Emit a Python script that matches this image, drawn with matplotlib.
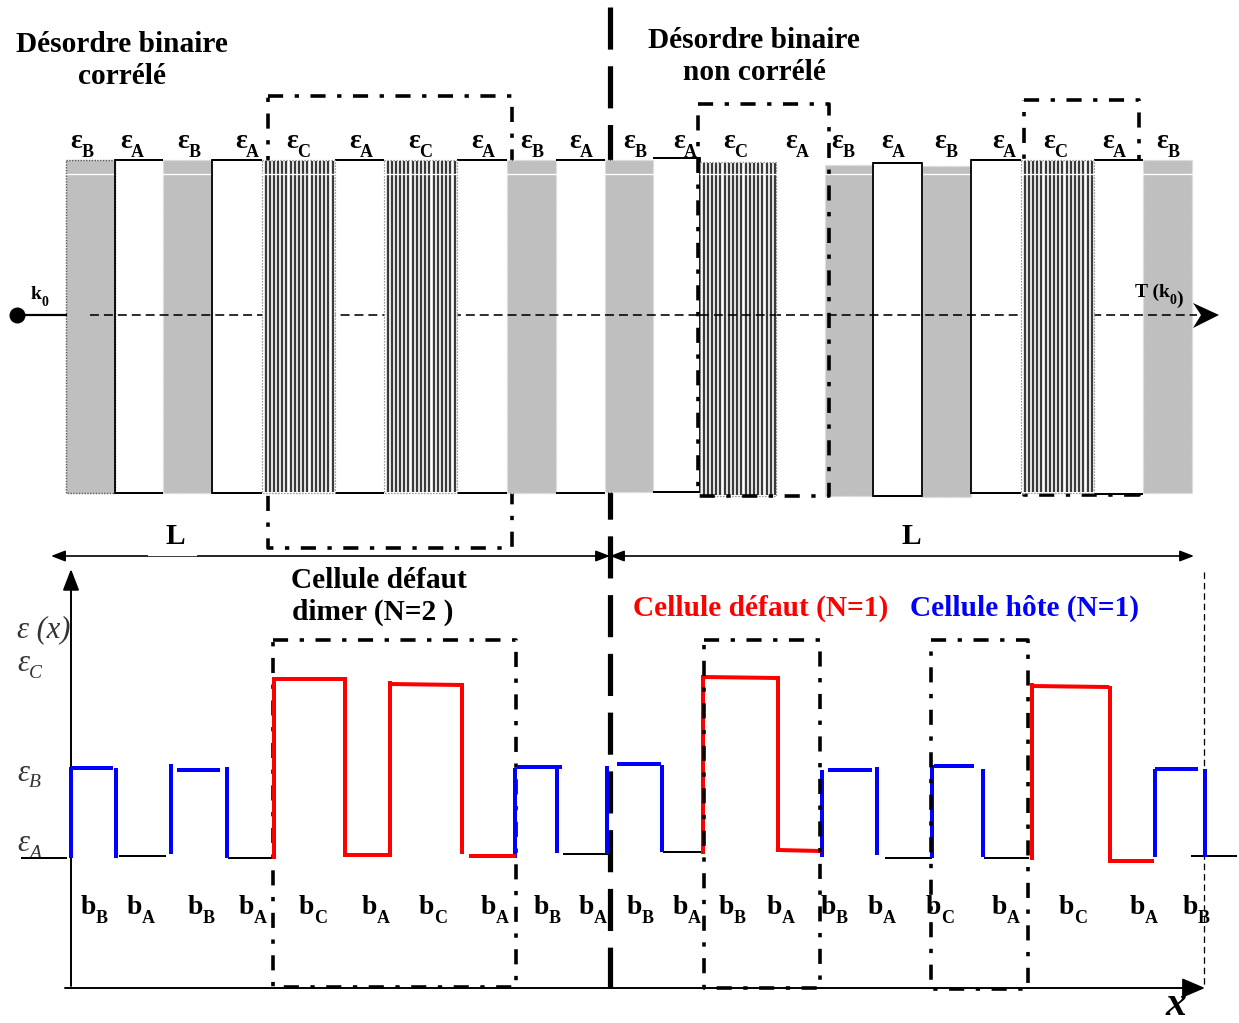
import numpy as np
import matplotlib
matplotlib.use('Agg')
import matplotlib.pyplot as plt
from matplotlib.patches import Rectangle, Polygon

plt.rcParams['font.family'] = ['Liberation Serif', 'DejaVu Serif']
plt.rcParams['mathtext.fontset'] = 'custom'
plt.rcParams['mathtext.it'] = 'Liberation Serif:italic:bold'

# stack of layers, reference pixel coordinates
layer_types = list('BABACACABABACABABACAB')
layer_left = [66, 115, 163, 212, 262, 335, 384, 457, 507, 556, 605, 653, 700, 776, 825, 873, 922, 971, 1021, 1094, 1143]
layer_right = [115, 163, 212, 262, 335, 384, 457, 507, 556, 605, 653, 700, 776, 825, 873, 922, 971, 1021, 1094, 1143, 1192]
layer_top = [160, 160, 160, 160, 160, 160, 160, 160, 160, 160, 160, 158, 162, 160, 165, 163, 166, 160, 160, 160, 160]
layer_bottom = [493, 493, 493, 493, 493, 493, 493, 493, 493, 493, 492, 492, 496, 496, 496, 496, 497, 493, 493, 494, 493]
black_edges = [115, 212, 700, 873, 922, 971]

eps_labels = ['B', 'A', 'B', 'A', 'C', 'A', 'C', 'A', 'B', 'A', 'B', 'A', 'C', 'A', 'B', 'A', 'B', 'A', 'C', 'A', 'B']
eps_x = [70, 120, 177, 235, 286, 349, 408, 471, 520, 569, 623, 673, 723, 785, 831, 881, 934, 992, 1043, 1102, 1156]
b_labels = ['B', 'A', 'B', 'A', 'C', 'A', 'C', 'A', 'B', 'A', 'B', 'A', 'B', 'A', 'B', 'A', 'C', 'A', 'C', 'A', 'B']
b_x = [81, 127, 188, 239, 299, 362, 419, 481, 534, 579, 627, 673, 719, 767, 821, 868, 926, 992, 1059, 1130, 1183]

# dash-dot boxes: left, right, top, bottom
box_left = [268, 698, 1024, 273, 704, 931]
box_right = [512, 829, 1139, 516, 820, 1028]
box_top = [96, 104, 100, 640, 640, 640]
box_bottom = [548, 496, 495, 987, 988, 989]
box_zorder = [1.5, 7, 1.5, 5, 7, 7]

# permittivity profile pieces: x0, x1, y0, y1
blue_segments = [
    (71, 71, 767, 858), (71, 113, 768, 768), (115.5, 115.5, 768, 858),
    (171, 171, 764, 854), (177, 220, 770, 770), (226.5, 226.5, 767, 858),
    (515, 515, 768, 858), (517, 562, 767, 767), (557, 557, 765, 853),
    (607, 607, 766, 854), (617, 661, 764, 764), (662, 662, 765, 852),
    (822, 822, 770, 857), (828, 872, 770, 770), (877, 877, 767, 855),
    (932, 932, 765, 858), (934, 974, 766, 766), (983, 983, 769, 857),
    (1155, 1155, 769, 857), (1155, 1198, 769, 769), (1205, 1205, 769, 857),
]
red_segments = [
    (274, 274, 857, 679), (274, 345, 679, 679), (345, 345, 679, 855), (345, 388, 855, 855),
    (390, 390, 855, 683), (390, 462, 684, 685), (462, 462, 685, 852), (471, 514, 856, 856),
    (703, 703, 852, 677), (703, 778, 677, 678), (778, 778, 678, 850), (778, 820, 850, 851),
    (1032, 1032, 858, 685), (1032, 1107, 686, 687), (1110, 1110, 688, 861), (1110, 1152, 861, 861),
]
black_segments = [
    (22, 66, 858, 858), (120, 165, 856, 856), (229, 273, 858, 858), (564, 607, 854, 854),
    (664, 703, 852, 852), (886, 931, 858, 858), (985, 1028, 858, 858), (1192, 1236, 856, 856),
]

fig = plt.figure(figsize=(12.39, 10.23), dpi=100)
ax = fig.add_axes([0, 0, 1, 1])
ax.set_xlim(0, 1239)
ax.set_ylim(1023, 0)
ax.axis('off')

px = 0.72  # one pixel in points
dashdot = (0, (4.2, 3.2, 1.2, 3.2))


def label(x, y, main, sub, size=20, subsize=13, **kw):
    t = ax.text(x, y, main, fontsize=size, fontweight='bold', va='baseline', ha='left', **kw)
    ax.annotate(sub, xy=(1, 0), xycoords=t, xytext=(-0.5, -2), textcoords='offset points',
                fontsize=subsize, fontweight='bold', va='baseline', ha='left', **kw)


# beam: over the grey layers, under most hatched ones
beam = (0, (5.6, 3.1))
ax.plot([90, 1197], [315, 315], color='black', lw=1.6 * px, ls=beam, zorder=3)
ax.plot([700, 776], [315, 315], color='black', lw=1.6 * px, ls=(0, (5.6, 3.1)), zorder=4.5)
ax.plot([17, 66], [315, 315], color='black', lw=2.2 * px, zorder=3)
ax.plot([17], [315], 'o', color='black', ms=16 * px, mew=0, zorder=3)
ax.add_patch(Polygon([(1193, 303), (1219, 315), (1193, 328), (1201, 315)], fc='black', ec='none', zorder=6))

for kind, x0, x1, y0, y1 in zip(layer_types, layer_left, layer_right, layer_top, layer_bottom):
    if kind == 'A':
        ax.add_patch(Rectangle((x0, y0), x1 - x0, y1 - y0, fc='white', ec='none', zorder=2))
        if x0 != 776:
            ax.plot([x0, x1], [y0, y0], color='black', lw=2 * px, solid_capstyle='butt', zorder=3.5)
            ax.plot([x0, x1], [y1, y1], color='black', lw=2 * px, solid_capstyle='butt', zorder=3.5)
        for xe in (x0, x1):
            if xe in black_edges:
                ax.plot([xe, xe], [y0, y1], color='black', lw=1.8 * px, zorder=3.5)
    elif kind == 'B':
        edge = '#555555' if x0 == 66 else '#dcdcdc'
        ax.add_patch(Rectangle((x0, y0), x1 - x0, y1 - y0, fc='#bfbfbf', ec=edge, lw=1.4 * px,
                               ls=(0, (1, 1)), zorder=2.5))
        ax.plot([x0, x1], [174, 174], color='white', lw=1.3 * px, zorder=2.6)
    else:
        ax.add_patch(Rectangle((x0, y0), x1 - x0, y1 - y0, fc='white', ec='#777777', lw=1.2 * px,
                               ls=(0, (1, 1.5)), zorder=4))
        ax.vlines(np.arange(x0 + 3.5, x1 - 1, 4.2), y0 + 1, y1 - 1, color='#3a3a3a', lw=2.3 * px, zorder=4.1)
        ax.plot([x0, x1], [174, 174], color='white', lw=1.3 * px, zorder=4.2)

for x, s in zip(eps_x, eps_labels):
    label(x, 148, 'ε', s)
for x, s in zip(b_x, b_labels):
    label(x, 914, 'b', s)

for x0, x1, y0, y1, z in zip(box_left, box_right, box_top, box_bottom, box_zorder):
    ax.plot([x0, x1, x1, x0, x0], [y0, y0, y1, y1, y0], color='black', lw=3.6 * px, ls=dashdot,
            dash_capstyle='butt', zorder=z)

# central separation, hidden behind the layers
ax.plot([610, 610], [7, 988], color='black', lw=5.2 * px, ls=(0, (8.1, 3.2)), dash_capstyle='butt', zorder=1.5)

# L arrows
heads = dict(arrowstyle='<|-|>,head_length=0.85,head_width=0.33', color='black', lw=1.2, shrinkA=0, shrinkB=0)
ax.annotate('', xy=(51, 556), xytext=(610, 556), arrowprops=heads)
ax.annotate('', xy=(610, 556), xytext=(1194, 556), arrowprops=heads)
ax.plot([148, 196], [555, 555], color='white', lw=1.2 * px, zorder=3)

# axes of the profile
ax.annotate('', xy=(71, 569), xytext=(71, 986),
            arrowprops=dict(arrowstyle='-|>,head_length=1.3,head_width=0.5', color='black', lw=1.4, shrinkA=0, shrinkB=0))
ax.annotate('', xy=(1205, 988), xytext=(65, 988),
            arrowprops=dict(arrowstyle='-|>,head_length=1.4,head_width=0.6', color='black', lw=1.4, shrinkA=0, shrinkB=0))
ax.plot([1204, 1204], [572, 985], color='black', lw=1.3 * px, ls=(0, (5, 3)))

for x0, x1, y0, y1 in black_segments:
    ax.plot([x0, x1], [y0, y1], color='black', lw=2 * px, zorder=4)
for x0, x1, y0, y1 in blue_segments:
    ax.plot([x0, x1], [y0, y1], color='#0000ff', lw=4 * px, solid_capstyle='butt', zorder=6)
for x0, x1, y0, y1 in red_segments:
    ax.plot([x0, x1], [y0, y1], color='#ff0000', lw=4 * px, solid_capstyle='projecting', zorder=6)

# texts
bold = dict(fontsize=21.2, fontweight='bold', ha='center', va='baseline')
ax.text(122, 52, 'Désordre binaire', **bold)
ax.text(122, 84, 'corrélé', **bold)
ax.text(754, 48, 'Désordre binaire', **bold)
ax.text(754, 80, 'non corrélé', **bold)
ax.text(379, 588, 'Cellule défaut', **bold)
ax.text(292, 620, 'dimer (N=2 )', fontsize=21.2, fontweight='bold', ha='left', va='baseline')
ax.text(761, 616, 'Cellule défaut (N=1)', color='#ff0000', **bold)
ax.text(1024, 616, 'Cellule hôte (N=1)', color='#0000ff', **bold)
ax.text(175, 544, 'L', **bold)
ax.text(911, 544, 'L', **bold)
label(31, 299, 'k', '0', size=14, subsize=10)
t = ax.text(1135, 297, 'T (k', fontsize=14, fontweight='bold', ha='left', va='baseline', zorder=8)
t2 = ax.annotate('0', xy=(1, 0), xycoords=t, xytext=(0, -2), textcoords='offset points',
                 fontsize=10, fontweight='bold', va='baseline', zorder=8)
ax.annotate(')', xy=(1, 0), xycoords=t2, xytext=(0, 2), textcoords='offset points',
            fontsize=14, fontweight='bold', va='baseline', zorder=8)

# italic profile labels
ital = dict(fontsize=22, style='italic', color='#333333', va='baseline', ha='left')
sub_ital = dict(fontsize=14, style='italic', color='#333333', va='baseline', ha='left')
ax.text(17, 637, 'ε (x)', **ital)
ax.text(17, 671, 'ε', **ital)
ax.text(29, 678, 'C', **sub_ital)
ax.text(17, 781, 'ε', **ital)
ax.text(29, 787, 'B', **sub_ital)
ax.text(17, 851, 'ε', **ital)
ax.text(29, 858, 'A', **sub_ital)
ax.text(1165, 1015, r'$x$', fontsize=30, va='baseline', ha='left')

fig.savefig('out.png', dpi=100)
